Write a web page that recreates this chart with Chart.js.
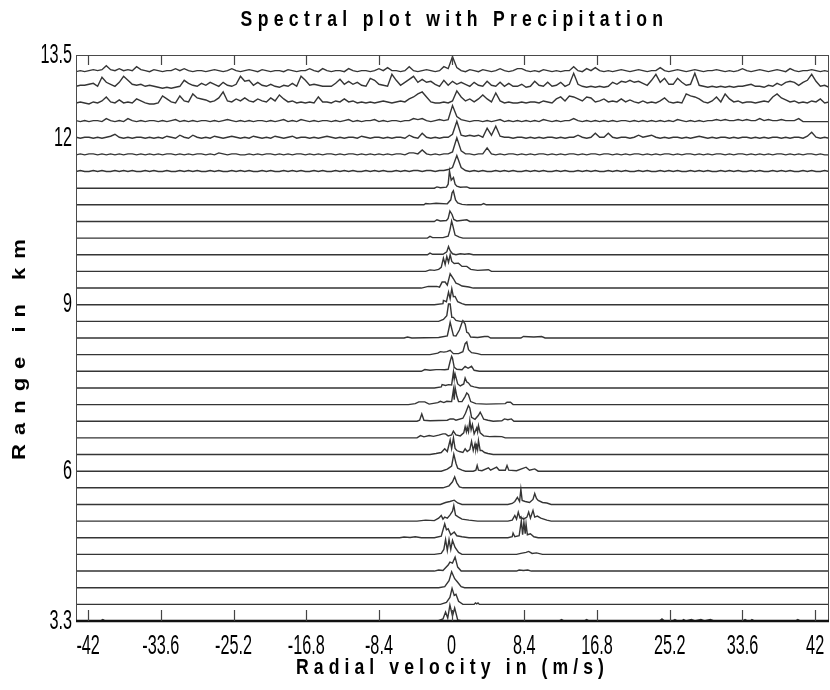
<!DOCTYPE html>
<html>
<head>
<meta charset="utf-8">
<title>Spectral plot with Precipitation</title>
<script src="https://cdn.jsdelivr.net/npm/chart.js@4.4.1/dist/chart.umd.min.js"></script>
<style>
    html, body { margin: 0; padding: 0; background: #fff; }
    canvas { display: block; }
</style>
</head>
<body>
<canvas id="chart" width="830" height="690"></canvas>
<script>
// ---------- datos ----------
const TITLE = 'Spectral plot with Precipitation';
const X_TITLE = 'Radial velocity in (m/s)';
const Y_TITLE = 'Range in km';

const VELOCITY_TICKS = [-42, -33.6, -25.2, -16.8, -8.4, 0, 8.4, 16.8, 25.2, 33.6, 42];
const RANGE_TICKS = [3.3, 6, 9, 12, 13.5];

const VEL_MIN = -43.4;
const VEL_MAX = 43.6;
const RANGE_MIN = 3.3;
const RANGE_MAX = 13.5;

// range gates (km), one spectrum per gate
const RANGES = [3.3, 3.6, 3.9, 4.2, 4.5, 4.8, 5.1, 5.4, 5.7, 6.0, 6.3, 6.6, 6.9, 7.2, 7.5, 7.8, 8.1,
    8.4, 8.7, 9.0, 9.3, 9.6, 9.9, 10.2, 10.5, 10.8, 11.1, 11.4, 11.7, 12.0, 12.3, 12.6, 12.9, 13.2];

// relative spectral power -> km offset on the range axis
const POWER_TO_KM = 0.018;

// lower gates: [velocity, power] pairs, flat elsewhere
const peakSpectra = [
    [[-40.6,0],[-40.3,1.5],[-40.0,0],[-1.6,0],[-1.0,2],[-0.7,9],[-0.45,3],[-0.2,16],[0.1,5],[0.35,13],[0.7,1],[1.2,0],
     [12.4,0],[12.7,1.5],[13.0,0],[15.3,0],[15.6,1.5],[15.9,0],[24.0,0],[24.3,2],[24.6,0],[25.5,0],[25.8,1.5],[26.1,0],
     [26.6,0],[26.8,1.5],[27.1,0],[27.7,1.5],[28.1,0],[28.8,1.5],[29.2,0],[29.9,1.5],[30.3,0],[33.6,0],[33.9,1.5],[34.2,0],
     [34.5,0],[34.7,1.5],[35.0,0],[39.7,0],[40.0,1.5],[40.3,0]],
    [[-1.3,0],[-0.6,2],[-0.2,7],[0.05,16],[0.3,9],[0.5,10],[0.8,3],[1.3,0],[2.6,0],[2.75,1.5],[2.9,0.5],[3.05,1.5],[3.2,0]],
    [[-1.5,0],[-0.8,1],[-0.3,7],[0,16],[0.35,9],[0.65,6],[1.1,1],[1.5,0]],
    [[-2.0,0],[-1.5,1],[-1.0,0.5],[-0.4,6],[-0.2,9],[0.1,8],[0.4,14],[0.7,4],[1.1,0],[7.5,0],[7.8,1],[8.3,0.5],[8.8,1],[9.2,0]],
    [[-2,0],[-1.2,1],[-0.9,5],[-0.7,15],[-0.5,4],[-0.3,15],[-0.1,5],[0.1,14],[0.4,7],[0.8,2],[1.2,0],
     [7.5,0],[8.0,1],[8.6,2],[8.9,3],[9.3,1],[9.8,1.5],[10.5,0]],
    [[-6,0],[-5.5,0.8],[-4.8,0.3],[-4.2,1],[-3.5,0],[-2,0],[-1.2,1.5],[-0.8,14],[-0.6,8],[-0.4,9],[-0.1,3],[0.3,5.7],[0.6,2],[1.2,1],[2,0],
     [6.5,0],[7.0,1],[7.1,4.7],[7.3,1],[7.8,2],[8.05,17],[8.2,3],[8.35,15.7],[8.5,4],[8.6,14],[8.75,3],[9.1,4],[9.5,1],[10,0]],
    [[-4,0],[-3,1],[-2,0.5],[-1.5,3],[-1.2,5.7],[-1.0,2],[-0.8,4],[-0.5,3],[-0.2,6],[0.1,10],[0.25,15.7],[0.45,6],[0.8,4],[1.2,2],[2,1],[3,0],
     [6.5,0],[7.0,1],[7.3,5.7],[7.5,2],[7.7,9],[7.9,3],[8.0,4],[8.3,2],[8.7,4],[8.9,9],[9.1,3],[9.4,10.7],[9.6,4],[9.9,5],[10.3,3],[11,1],[11.5,0]],
    [[-1.3,0],[-0.7,2],[-0.2,3],[0.3,4.3],[0.7,1.5],[1.2,0],
     [6.5,0],[7.0,1],[7.3,3],[7.6,7],[7.85,3],[8.0,15.3],[8.15,4],[8.5,3],[9.0,2],[9.4,5],[9.6,11],[9.8,6],[10.0,4],[10.5,2],[11,1.5],[11.5,0]],
    [[-1.0,0],[-0.3,2],[0.1,6],[0.35,11],[0.6,5],[0.9,1],[1.3,0]],
    [[-1.2,0],[-0.5,2],[-0.17,4],[0,5],[0.25,17],[0.5,8],[0.7,3],[1.2,1],[1.6,0],[2.5,0],[2.8,1],[2.95,5.7],[3.1,1],[3.5,0.5],
     [4.25,3.3],[4.5,1],[5.2,4],[5.5,1],[6.2,1],[6.4,5.7],[6.6,1],[7.5,0.5],[8.6,4],[9.0,1],[9.6,2.3],[10,0]],
    [[-2.5,0],[-1.8,1],[-1.2,2],[-0.8,5.7],[-0.5,3],[-0.17,14.7],[0,6],[0.21,16.7],[0.4,6],[0.6,4],[0.9,3],[1.3,2],[1.56,5.7],[1.8,3],
     [2.1,5],[2.3,13.3],[2.5,4],[2.7,10.7],[2.8,5],[2.9,9],[3.0,5],[3.1,14],[3.3,4],[3.5,4],[3.8,2],[4.2,1],[4.8,0]],
    [[-4,0],[-3.6,2.3],[-3.2,1],[-2.6,2.3],[-2.1,1.5],[-1.5,2.7],[-1.0,4],[-0.7,4],[-0.4,2],[0,3],[0.2,6.7],[0.5,3],[1.0,2],[1.4,5],
     [1.56,11.3],[1.7,6],[1.8,10.7],[1.95,6],[2.1,17.3],[2.25,8],[2.4,13.3],[2.6,4],[2.9,10],[3.0,6],[3.1,12.3],[3.3,5],[3.7,2],
     [4.4,1.3],[5,1.5],[5.8,1.3],[6.2,0]],
    [[-4,0],[-3.7,1],[-3.45,7.3],[-3.2,1],[-2.5,0.5],[-0.5,1],[-0.17,2.3],[0.2,2.3],[0.5,1],[1.3,3],[1.6,8],[1.94,15.7],[2.1,13.3],
     [2.3,4],[2.7,2],[3.1,6],[3.3,9],[3.5,5.7],[3.7,2],[4.2,1],[4.8,0],[5.8,0.5],[6.1,2.3],[6.5,1.5],[6.9,2.3],[7.2,0]],
    [[-5,0],[-4.2,1],[-3.8,2.7],[-3.1,2.7],[-2.6,0.5],[-1.6,2],[-1.3,3.3],[-0.9,2],[-0.56,3.3],[0,3],[0.21,15],[0.3,5],[0.4,17.3],
     [0.6,8.3],[0.8,3],[1.2,3],[1.55,8],[1.75,11.7],[1.94,10],[2.2,3],[2.8,1],[4,0.5],[6.2,1],[6.4,2.3],[6.8,2.3],[7.1,0]],
    [[-2,0],[-1.2,1],[-1.1,3.3],[-0.7,2.5],[-0.36,3.3],[0,3],[0.21,16],[0.3,9],[0.4,14],[0.7,4],[1.0,2],[1.4,4],[1.56,10],[1.75,6],
     [1.94,5],[2.2,2],[2.6,1],[3.2,0]],
    [[-3.5,0],[-3.1,1.7],[-2.5,1],[-1.8,1.7],[-1.3,1.7],[-0.8,1.5],[-0.4,2],[-0.17,10],[0,15],[0.1,13],[0.3,4],[0.6,2],[1.2,1.5],
     [1.56,5],[1.9,3],[2.3,5],[2.6,1],[3.2,0]],
    [[-2.5,0],[-1.6,1.5],[-1.3,3],[-0.9,2.5],[-0.56,3],[-0.17,4.3],[0.2,1],[0.8,1],[1.3,3],[1.56,11],[1.75,12.7],[1.95,5],[2.3,2],[3.0,1],[3.4,0]],
    [[-5.5,0],[-5.1,1],[-4.6,0],[-1.5,0.5],[-0.5,2],[-0.3,10],[-0.17,15.7],[0.21,2.3],[0.5,2],[0.9,8],[1.18,15],[1.3,17.3],[1.56,14],
     [1.75,5.7],[1.94,5],[2.2,1],[3.0,0.5],[3.8,1.5],[4.2,1.5],[4.5,0],[8,0],[8.3,1.5],[9.5,1],[10.4,1.5],[10.8,0]],
    [[-1.5,0],[-0.95,2],[-0.56,5.7],[-0.36,17.3],[-0.17,17.3],[0.02,4],[0.2,4],[0.5,1],[1.0,0]],
    [[-2,0],[-1.0,1],[-0.95,4.3],[-0.6,3],[-0.36,12.7],[-0.17,6],[0.02,16],[0.2,8],[0.4,8.3],[0.7,3],[1.2,1],[1.6,0]],
    [[-3.5,0],[-2.7,1.7],[-2.2,1.5],[-1.7,1.7],[-1.4,1],[-1.1,6],[-0.75,6],[-0.5,3],[-0.17,14.3],[0.21,9.3],[0.5,5],[0.8,4],[1.2,2],[2,1],[2.5,0]],
    [[-3,0],[-2.5,1.5],[-2.0,1],[-1.5,2],[-1.2,4],[-0.95,13.3],[-0.75,7],[-0.56,15],[-0.36,9],[-0.17,16.7],[0.02,10],[0.3,8],[0.79,8.3],
     [1.2,5],[1.75,5],[2.2,2],[3.0,1],[4.25,1.7],[4.6,0]],
    [[-2.8,0],[-2.5,1.7],[-2.2,0.5],[-1.0,0.5],[-0.56,3],[-0.36,8.3],[-0.17,4],[0.1,1],[0.5,0],[1.0,1],[1.5,0.5],[2,1],[2.5,0]],
    [[-2.8,0],[-2.5,1.7],[-2.2,0.5],[-1.0,0.5],[-0.4,2],[-0.2,8],[0,17],[0.15,12],[0.4,3],[0.9,1],[1.3,0]],
    [[-2,0],[-1.7,1.7],[-1.3,0.5],[-0.6,1],[-0.4,3],[-0.2,10.5],[0.05,7],[0.25,2],[0.6,0.5],[1.75,1.7],[2.1,0]],
    [[-3.2,0],[-3.0,1.3],[-2.5,1],[-1.8,1.5],[-1.4,1.3],[-0.5,1],[-0.1,5],[0.05,12],[0.2,14],[0.45,5],[0.7,2],[1.2,0.5],[1.8,0],
     [3.4,0],[3.7,1.3],[4.0,0]],
    [[-2,0],[-1.7,1.3],[-1.3,0.5],[-0.6,1],[-0.4,4],[-0.25,17.3],[-0.05,8],[0.21,10.7],[0.4,4],[0.6,2],[1.0,1],[1.75,1.3],[2.1,0]]
];

// upper gates (11.4 .. 13.2 km): power on velocity bins from VEL_MIN, every 0.5 m/s
const BIN_STEP = 0.5;
const noisySpectra = [
    [0,1,0,0,1,0,1,0,0,1, 0,1,0,1,0,0,1,0,1,0, 0,1,0,0,1,0,1,0,1,0, 0,1,0,1,0,0,1,0,1,0,
     1,0,0,1,0,1,0,0,1,0, 1,0,1,0,0,1,0,1,0,0, 1,0,1,0,1,0,0,1,0,1, 0,1,0,0,1,0,1,0,1,1,
     0,1,1,0,1,1,2,4,16,4, 1,0,1,0,1,0,0,1,0,1, 0,1,0,0,1,0,1,0,1,0, 0,1,0,1,0,0,1,0,1,0,
     1,0,0,1,0,1,0,1,0,0, 1,0,1,0,0,1,0,1,0,1, 0,0,1,0,1,0,1,0,0,1, 0,1,0,1,0,0,1,0,1,0,
     0,1,0,1,0,1,0,0,1,0, 1,0,0,1,0],
    [0,1,0,1,1,0,1,0,1,0, 1,0,1,1,0,1,0,1,0,1, 0,1,1,0,1,0,1,0,1,1, 0,1,0,2,1,0,1,1,0,0,
     1,0,1,0,1,1,0,1,0,1, 0,1,1,0,1,0,1,0,1,1, 0,1,0,1,1,0,1,0,1,0, 1,0,1,0,1,1,0,2,2,1,
     5,1,0,1,0,1,1,3,17,4, 1,1,0,1,1,7,1,0,1,0, 1,1,0,1,0,1,0,1,1,0, 1,0,1,0,1,1,0,1,0,1,
     1,0,1,1,0,1,0,1,0,1, 1,0,1,0,1,0,1,1,0,1, 0,1,1,0,1,0,1,0,1,1, 0,1,0,1,1,0,1,0,1,0,
     1,0,1,1,0,1,0,1,0,1, 1,0,1,0,0],
    [1,0,1,1,0,1,0,1,2,4, 1,0,1,0,1,1,0,1,0,1, 0,2,1,0,3,1,0,3,1,0, 1,0,2,1,0,1,2,1,0,1,
     0,2,1,0,1,0,2,1,0,1, 2,0,1,1,0,1,0,1,2,1, 0,1,0,1,1,0,2,1,0,1, 1,0,1,0,1,1,0,3,1,0,
     5,1,0,1,0,1,1,4,17,3, 2,3,2,3,1,10,3,12,2,1, 1,0,1,1,0,1,0,1,0,1, 1,0,1,0,1,1,3,1,0,1,
     5,1,1,5,1,0,1,1,0,1, 3,1,2,3,1,0,1,0,1,1, 0,1,0,1,2,1,0,1,0,1, 1,0,1,0,1,1,0,1,0,1,
     0,1,1,0,1,0,1,1,0,2, 6,1,0,1,0],
    [1,0,1,0,1,1,0,3,1,0, 1,0,3,1,0,1,0,1,1,0, 1,0,1,2,0,1,0,1,0,1, 1,0,1,0,1,2,1,0,1,0,
     1,0,1,1,0,1,0,1,2,0, 1,0,2,1,0,1,0,1,1,0, 1,0,1,2,0,1,0,1,1,2, 0,1,0,1,1,0,1,1,3,2,
     3,1,0,1,2,1,2,16,5,2, 1,0,1,1,0,1,0,1,2,0, 1,0,1,0,1,0,1,0,2,1, 0,1,0,1,1,3,1,0,1,0,
     1,0,1,0,1,0,1,1,0,1, 0,1,0,1,0,1,0,1,0,2, 1,0,1,0,1,0,1,1,2,1, 2,1,1,2,1,2,1,1,3,1,
     2,1,1,2,1,1,1,3,0,0, 0,0,0,0,0],
    [2,3,2,1,3,2,4,8,3,2, 5,2,3,2,6,4,2,1,1,2, 9,6,3,2,9,4,3,11,7,6, 5,3,4,7,13,4,3,6,4,7,
     4,3,6,4,3,7,4,10,6,3, 4,2,3,2,3,2,8,3,3,2, 4,3,6,3,4,2,3,2,3,2, 3,4,3,2,3,4,3,6,8,11,
     13,8,3,2,2,3,2,4,14,8, 4,6,3,6,10,6,3,12,4,2, 3,2,2,3,2,3,3,2,4,3, 2,6,8,4,9,8,6,4,8,7,
     3,4,6,3,4,3,6,3,5,3, 2,4,2,3,2,4,7,3,2,3, 2,11,9,8,6,3,2,4,8,3, 11,6,3,4,2,3,3,2,3,4,
     3,8,11,7,5,3,4,2,3,2, 4,3,6,2,3],
    [2,3,3,4,5,2,11,6,4,2, 6,12,8,4,3,4,2,3,2,1, 0,1,0,1,2,8,5,3,2,5, 3,6,4,2,6,3,2,4,12,7,
     8,3,6,3,2,4,2,1,3,2, 5,2,12,8,3,4,3,2,2,2, 5,9,4,7,4,6,3,2,10,8, 4,3,2,14,8,3,6,9,12,6,
     9,6,7,4,2,8,3,7,4,6, 4,2,6,3,2,7,3,2,6,2, 5,2,2,4,1,2,7,3,2,6, 2,3,6,2,4,15,4,2,1,2,
     1,2,1,2,6,4,7,6,8,6, 7,5,3,8,14,6,10,4,4,10, 6,3,4,15,3,2,1,2,1,2, 1,2,1,2,2,3,4,2,2,1,
     3,2,5,3,6,7,6,3,6,8, 14,7,2,3,1],
    [0,1,0,1,2,1,2,6,2,1, 3,1,2,1,5,2,1,0,2,1, 0,1,1,3,1,3,1,0,1,1, 0,1,2,1,0,1,3,1,0,1,
     2,1,0,2,1,0,1,1,0,2, 1,0,1,1,3,1,0,3,1,0, 1,1,0,3,1,0,1,1,0,1, 3,1,4,1,1,0,1,5,1,0,
     1,2,1,0,1,5,3,15,4,1, 0,2,1,0,2,1,0,1,3,1, 0,1,3,3,1,0,1,0,2,1, 0,1,0,1,1,5,1,0,3,1,
     4,1,0,1,0,1,2,1,0,1, 2,1,0,1,1,4,1,0,1,2, 1,0,1,2,1,0,1,1,2,1, 0,1,0,1,3,1,0,1,2,1,
     0,1,2,1,0,3,1,0,1,1, 2,1,0,1,0]
];

// ---------- series ----------
function gatePoints(k) {
    if (k < peakSpectra.length) {
        return [[VEL_MIN, 0], ...peakSpectra[k], [VEL_MAX, 0]];
    }
    return noisySpectra[k - peakSpectra.length].map((p, i) => [VEL_MIN + i * BIN_STEP, p]);
}

const datasets = RANGES.map((r, k) => ({
    label: r + ' km',
    data: gatePoints(k).map(([v, p]) => ({ x: v, y: r + p * POWER_TO_KM })),
    borderColor: '#353535',
    borderWidth: 1.4,
    pointRadius: 0,
    tension: 0,
    fill: false
}));

// ---------- ejes estilo matlab ----------
function squeezedText(ctx, text, x, y, sx, align, spacing = 0) {
    ctx.save();
    ctx.translate(x, y);
    ctx.scale(sx, 1);
    ctx.textAlign = align;
    if ('letterSpacing' in ctx) ctx.letterSpacing = (spacing / sx) + 'px';
    ctx.fillText(text, 0, 0);
    ctx.restore();
}

const matlabAxes = {
    id: 'matlabAxes',
    afterDatasetsDraw(chart) {
        const { ctx, chartArea: a, scales: { x, y } } = chart;
        ctx.save();

        ctx.strokeStyle = '#4a4a4a';
        ctx.lineWidth = 1;
        ctx.strokeRect(a.left + 0.5, a.top + 0.5, a.right - a.left - 1, a.bottom - a.top);

        ctx.strokeStyle = '#111';
        ctx.lineWidth = 2.5;
        ctx.beginPath();
        ctx.moveTo(a.left, a.bottom);
        ctx.lineTo(a.right, a.bottom);
        ctx.stroke();

        ctx.strokeStyle = '#444';
        ctx.lineWidth = 1.2;
        VELOCITY_TICKS.forEach(v => {
            const px = Math.round(x.getPixelForValue(v)) + 0.5;
            ctx.beginPath();
            ctx.moveTo(px, a.bottom);
            ctx.lineTo(px, a.bottom - 11);
            ctx.moveTo(px, a.top);
            ctx.lineTo(px, a.top + 10);
            ctx.stroke();
        });

        ctx.fillStyle = '#000';
        ctx.textBaseline = 'middle';
        ctx.font = '28px "Liberation Sans", Arial, sans-serif';
        VELOCITY_TICKS.forEach(v => {
            squeezedText(ctx, String(v), x.getPixelForValue(v), a.bottom + 25, 0.58, 'center');
        });
        RANGE_TICKS.forEach(r => {
            squeezedText(ctx, String(r), a.left - 4, y.getPixelForValue(r), 0.58, 'right');
        });

        ctx.font = 'bold 22px "Liberation Sans", Arial, sans-serif';
        squeezedText(ctx, TITLE, (a.left + a.right) / 2 + 2, 20, 0.8, 'center', 5.3);
        squeezedText(ctx, X_TITLE, (a.left + a.right) / 2, 668, 0.8, 'center', 5.1);

        ctx.save();
        ctx.translate(20, 345);
        ctx.rotate(-Math.PI / 2);
        ctx.scale(1, 0.8);
        ctx.textAlign = 'center';
        if ('letterSpacing' in ctx) ctx.letterSpacing = '9px';
        ctx.fillText(Y_TITLE, 0, 0);
        ctx.restore();

        ctx.restore();
    }
};

// ---------- crear gráfica ----------
const ctx = document.getElementById('chart');

new Chart(ctx, {
    type: 'line',
    data: { datasets },
    options: {
        responsive: false,
        animation: false,
        events: [],
        layout: {
            padding: { left: 76, right: 1, top: 55, bottom: 69 }
        },
        plugins: {
            legend: { display: false },
            tooltip: { enabled: false }
        },
        scales: {
            x: { type: 'linear', min: VEL_MIN, max: VEL_MAX, display: false },
            y: { type: 'linear', min: RANGE_MIN, max: RANGE_MAX, display: false }
        }
    },
    plugins: [matlabAxes]
});
</script>
</body>
</html>
